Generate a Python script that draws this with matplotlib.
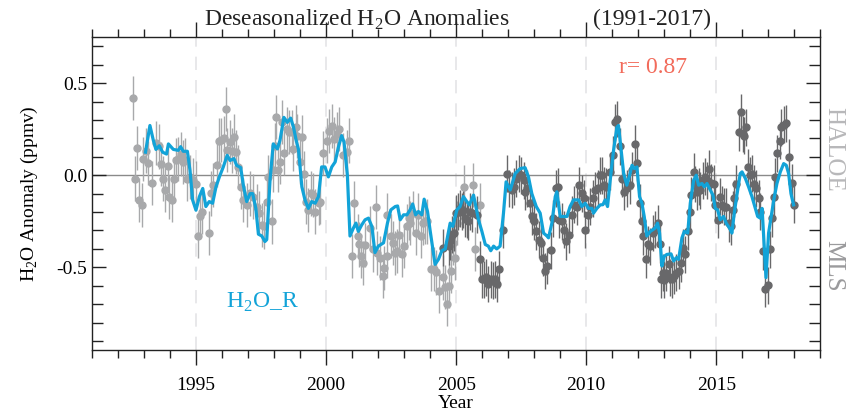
import matplotlib
matplotlib.use('Agg')
import matplotlib.pyplot as plt
import numpy as np
from matplotlib.ticker import MultipleLocator, FormatStrFormatter

plt.rcParams['font.family'] = ['Liberation Serif', 'DejaVu Serif']
plt.rcParams['mathtext.fontset'] = 'custom'
plt.rcParams['mathtext.rm'] = 'Liberation Serif'

# HALOE monthly anomalies (ppmv)
haloe_year = [1992.59, 1992.65, 1992.74, 1992.82, 1992.91, 1992.97, 1993.07, 1993.16, 1993.32, 1993.46,
              1993.59, 1993.64, 1993.74, 1993.81, 1993.91, 1993.97, 1994.07, 1994.16, 1994.23, 1994.32,
              1994.41, 1994.49, 1994.57, 1994.66, 1994.77, 1994.87, 1995.00, 1995.09, 1995.15, 1995.25,
              1995.49, 1995.56, 1995.66, 1995.79, 1995.90, 1995.98, 1996.07, 1996.15, 1996.20, 1996.31,
              1996.37, 1996.46, 1996.54, 1996.63, 1996.72, 1996.82, 1996.95, 1997.08, 1997.20, 1997.33,
              1997.43, 1997.52, 1997.61, 1997.72, 1997.78, 1997.91, 1997.95, 1998.04, 1998.08, 1998.17,
              1998.23, 1998.30, 1998.38, 1998.49, 1998.58, 1998.68, 1998.74, 1998.85, 1998.90, 1999.00,
              1999.08, 1999.17, 1999.23, 1999.32, 1999.42, 1999.51, 1999.58, 1999.71, 1999.77, 1999.90,
              2000.05, 2000.13, 2000.22, 2000.31, 2000.41, 2000.51, 2000.67, 2000.79, 2000.90, 2000.99,
              2001.08, 2001.21, 2001.28, 2001.33, 2001.41, 2001.50, 2001.67, 2001.80, 2001.91, 2001.97,
              2002.08, 2002.18, 2002.23, 2002.33, 2002.36, 2002.49, 2002.56, 2002.65, 2002.72, 2002.82,
              2002.91, 2003.00, 2003.10, 2003.17, 2003.23, 2003.33, 2003.46, 2003.55, 2003.64, 2003.72,
              2003.81, 2003.87, 2004.03, 2004.13, 2004.23, 2004.36, 2004.49, 2004.58, 2004.64, 2004.74,
              2004.81, 2004.87, 2004.96, 2005.05, 2005.31, 2005.64, 2005.73, 2005.92]
haloe_val = [0.42, -0.018, 0.149, -0.134, -0.161, 0.09, 0.134, 0.066, -0.041, 0.174,
             0.156, 0.059, -0.018, -0.08, 0.048, -0.12, -0.134, -0.023, 0.084, 0.09,
             0.116, 0.072, 0.081, -0.018, -0.009, -0.027, -0.045, -0.328, -0.224, -0.197,
             -0.314, -0.099, -0.054, 0.054, 0.188, 0.192, 0.203, 0.358, 0.138, 0.179,
             0.134, 0.21, 0.125, 0.045, -0.063, -0.134, -0.161, -0.099, -0.116, -0.17,
             -0.206, -0.269, -0.278, -0.143, -0.009, -0.251, 0.027, 0.161, 0.314, 0.027,
             0.072, 0.287, 0.12, 0.25, 0.233, 0.233, 0.143, 0.26, 0.215, 0.072,
             0.206, 0.009, -0.143, -0.188, -0.099, -0.108, -0.197, -0.152, -0.143, 0.12,
             0.188, 0.242, 0.269, 0.197, 0.224, 0.25, 0.108, 0.125, 0.188, -0.44,
             -0.152, -0.33, -0.376, -0.44, -0.475, -0.38, -0.287, -0.403, -0.174, -0.421,
             -0.448, -0.547, -0.502, -0.44, -0.215, -0.331, -0.367, -0.421, -0.412, -0.323,
             -0.43, -0.385, -0.278, -0.233, -0.26, -0.206, -0.314, -0.215, -0.331, -0.26,
             -0.251, -0.251, -0.51, -0.51, -0.528, -0.627, -0.555, -0.609, -0.699, -0.60,
             -0.52, -0.37, -0.448, -0.26, -0.063, -0.054, -0.40, -0.161]

# MLS monthly anomalies (ppmv)
mls_year = [2004.51, 2004.71, 2004.77, 2004.83, 2004.90, 2005.00, 2005.09, 2005.15, 2005.22, 2005.28,
            2005.35, 2005.41, 2005.47, 2005.54, 2005.60, 2005.79, 2005.90, 2005.99, 2006.08, 2006.15,
            2006.24, 2006.33, 2006.41, 2006.50, 2006.56, 2006.63, 2006.82, 2006.97, 2007.05, 2007.14,
            2007.21, 2007.31, 2007.40, 2007.49, 2007.59, 2007.65, 2007.72, 2007.82, 2007.91, 2008.00,
            2008.08, 2008.17, 2008.26, 2008.33, 2008.42, 2008.51, 2008.64, 2008.74, 2008.82, 2008.90,
            2008.97, 2009.06, 2009.15, 2009.23, 2009.32, 2009.45, 2009.54, 2009.64, 2009.74, 2009.83,
            2009.90, 2009.96, 2010.05, 2010.15, 2010.26, 2010.35, 2010.44, 2010.54, 2010.60, 2010.67,
            2010.77, 2010.90, 2011.03, 2011.12, 2011.20, 2011.31, 2011.37, 2011.46, 2011.56, 2011.67,
            2011.76, 2011.88, 2011.97, 2012.05, 2012.14, 2012.20, 2012.31, 2012.37, 2012.46, 2012.56,
            2012.65, 2012.74, 2012.82, 2012.87, 2012.95, 2013.00, 2013.08, 2013.17, 2013.23, 2013.29,
            2013.36, 2013.46, 2013.55, 2013.64, 2013.72, 2013.81, 2013.90, 2013.97, 2014.04, 2014.13,
            2014.19, 2014.26, 2014.32, 2014.38, 2014.49, 2014.58, 2014.64, 2014.72, 2014.79, 2014.90,
            2014.96, 2015.05, 2015.13, 2015.22, 2015.31, 2015.38, 2015.47, 2015.56, 2015.64, 2015.69,
            2015.77, 2015.86, 2015.95, 2016.02, 2016.08, 2016.14, 2016.22, 2016.31, 2016.37, 2016.46,
            2016.54, 2016.63, 2016.69, 2016.78, 2016.88, 2016.97, 2017.08, 2017.14, 2017.21, 2017.27,
            2017.33, 2017.44, 2017.50, 2017.59, 2017.69, 2017.78, 2017.91, 2017.97]
mls_val = [-0.394, -0.385, -0.358, -0.323, -0.314, -0.206, -0.197, -0.179, -0.197, -0.188,
           -0.233, -0.242, -0.251, -0.197, -0.206, -0.215, -0.457, -0.565, -0.565, -0.555,
           -0.591, -0.565, -0.573, -0.565, -0.591, -0.51, -0.296, 0.009, -0.072, -0.08,
           -0.063, -0.018, 0.009, 0.0, -0.027, -0.09, -0.072, -0.152, -0.224, -0.251,
           -0.305, -0.349, -0.367, -0.448, -0.52, -0.493, -0.407, -0.233, -0.072, -0.063,
           -0.242, -0.251, -0.296, -0.358, -0.323, -0.215, -0.161, -0.17, -0.054, -0.099,
           -0.125, -0.296, -0.215, -0.17, -0.125, -0.081, -0.072, 0.0, 0.0, -0.054,
           -0.063, 0.018, 0.111, 0.287, 0.305, 0.158, -0.018, -0.09, -0.072, -0.054,
           0.027, 0.17, 0.066, -0.149, -0.247, -0.332, -0.457, -0.376, -0.385, -0.314,
           -0.296, -0.26, -0.376, -0.565, -0.529, -0.568, -0.529, -0.484, -0.556, -0.565,
           -0.547, -0.529, -0.52, -0.479, -0.394, -0.43, -0.305, -0.197, -0.108, 0.018,
           -0.048, -0.09, -0.063, -0.081, -0.027, -0.009, -0.027, 0.036, -0.041, -0.045,
           -0.161, -0.242, -0.116, -0.161, -0.17, -0.17, -0.26, -0.278, -0.188, -0.125,
           -0.045, 0.233, 0.341, 0.224, 0.215, 0.26, 0.045, 0.0, 0.009, -0.045,
           -0.072, -0.125, -0.197, -0.412, -0.618, -0.597, -0.403, -0.233, -0.116, -0.009,
           0.12, 0.188, 0.26, 0.274, 0.281, 0.099, -0.041, -0.161]

# H2O_R reconstruction
h2or_year = [1993.06, 1993.23, 1993.36, 1993.46, 1993.59, 1993.72, 1993.87, 1993.94, 1994.13, 1994.32,
             1994.41, 1994.51, 1994.67, 1994.77, 1994.87, 1995.00, 1995.13, 1995.26, 1995.38, 1995.51,
             1995.64, 1995.77, 1995.90, 1996.05, 1996.20, 1996.31, 1996.46, 1996.56, 1996.72, 1996.82,
             1996.95, 1997.08, 1997.18, 1997.30, 1997.40, 1997.53, 1997.65, 1997.72, 1997.85, 1997.97,
             1998.13, 1998.23, 1998.38, 1998.51, 1998.64, 1998.75, 1998.85, 1998.94, 1999.07, 1999.19,
             1999.32, 1999.45, 1999.58, 1999.71, 1999.83, 1999.96, 2000.09, 2000.22, 2000.35, 2000.47,
             2000.60, 2000.69, 2000.82, 2000.92, 2001.05, 2001.15, 2001.24, 2001.37, 2001.50, 2001.63,
             2001.76, 2001.88, 2002.01, 2002.21, 2002.36, 2002.49, 2002.66, 2002.75, 2002.85, 2002.98,
             2003.11, 2003.23, 2003.33, 2003.44, 2003.55, 2003.68, 2003.77, 2003.90, 2004.00, 2004.19,
             2004.32, 2004.45, 2004.58, 2004.77, 2004.87, 2005.03, 2005.15, 2005.28, 2005.41, 2005.51,
             2005.67, 2005.86, 2005.99, 2006.12, 2006.24, 2006.33, 2006.44, 2006.56, 2006.69, 2006.82,
             2006.92, 2007.08, 2007.27, 2007.46, 2007.65, 2007.78, 2007.91, 2008.08, 2008.23, 2008.36,
             2008.49, 2008.55, 2008.68, 2008.81, 2008.87, 2009.00, 2009.13, 2009.26, 2009.38, 2009.51,
             2009.71, 2009.83, 2009.96, 2010.09, 2010.22, 2010.28, 2010.41, 2010.54, 2010.64, 2010.73,
             2010.82, 2010.92, 2011.05, 2011.18, 2011.24, 2011.33, 2011.44, 2011.56, 2011.67, 2011.76,
             2011.85, 2011.95, 2012.05, 2012.14, 2012.23, 2012.33, 2012.46, 2012.56, 2012.65, 2012.74,
             2012.82, 2012.91, 2013.00, 2013.10, 2013.26, 2013.36, 2013.46, 2013.55, 2013.68, 2013.77,
             2013.90, 2014.00, 2014.13, 2014.23, 2014.32, 2014.45, 2014.54, 2014.64, 2014.74, 2014.87,
             2014.96, 2015.05, 2015.15, 2015.28, 2015.38, 2015.51, 2015.60, 2015.69, 2015.80, 2015.92,
             2015.99, 2016.12, 2016.24, 2016.37, 2016.50, 2016.59, 2016.69, 2016.76, 2016.82, 2016.91,
             2017.01, 2017.10, 2017.21, 2017.33, 2017.46, 2017.59, 2017.69, 2017.78, 2017.87, 2017.97]
h2or_val = [0.125, 0.27, 0.19, 0.14, 0.16, 0.125, 0.115, 0.17, 0.14, 0.135,
            0.155, 0.13, 0.13, 0.027, -0.134, -0.19, -0.117, -0.072, -0.17, -0.143,
            -0.152, -0.063, -0.009, 0.045, 0.108, 0.08, 0.09, 0.054, 0.041, -0.054,
            -0.143, -0.10, -0.10, -0.18, -0.32, -0.33, -0.36, -0.35, -0.02, 0.17,
            0.143, 0.19, 0.314, 0.287, 0.31, 0.26, 0.19, 0.14, -0.063, -0.134,
            -0.18, -0.143, -0.152, -0.116, 0.045, 0.045, -0.009, 0.045, 0.072, 0.15,
            0.215, 0.18, 0.0, -0.33, -0.287, -0.26, -0.305, -0.27, -0.242, -0.233,
            -0.278, -0.42, -0.385, -0.367, -0.26, -0.188, -0.17, -0.167, -0.242, -0.215,
            -0.215, -0.188, -0.156, -0.215, -0.197, -0.215, -0.13, -0.197, -0.30, -0.484,
            -0.457, -0.41, -0.40, -0.26, -0.278, -0.188, -0.17, -0.116, -0.143, -0.161,
            -0.108, -0.242, -0.305, -0.376, -0.385, -0.41, -0.385, -0.40, -0.385, -0.206,
            -0.036, -0.08, 0.009, 0.036, 0.041, -0.009, -0.10, -0.17, -0.206, -0.314,
            -0.33, -0.34, -0.26, -0.116, -0.09, -0.224, -0.224, -0.224, -0.17, -0.134,
            -0.134, -0.17, -0.152, -0.18, -0.18, -0.206, -0.18, -0.161, -0.16, -0.134,
            -0.17, -0.03, 0.134, 0.26, 0.27, 0.152, 0.009, -0.054, 0.0, 0.054,
            0.036, 0.045, -0.116, -0.152, -0.224, -0.33, -0.305, -0.296, -0.287, -0.26,
            -0.314, -0.493, -0.44, -0.43, -0.427, -0.466, -0.448, -0.457, -0.34, -0.305,
            -0.314, -0.152, -0.027, 0.0, -0.054, -0.045, -0.063, -0.045, -0.072, -0.108,
            -0.18, -0.188, -0.242, -0.224, -0.26, -0.287, -0.314, -0.206, -0.1, 0.009,
            0.018, -0.018, -0.063, -0.116, -0.18, -0.224, -0.233, -0.18, -0.33, -0.556,
            -0.314, -0.233, -0.134, -0.045, 0.018, 0.063, 0.054, 0.009, -0.1, -0.161]

haloe_err = 0.12
mls_err = 0.1

c_haloe = '#a8a9ab'
c_mls = '#68686a'
c_blue = '#12a3d8'

fig = plt.figure(figsize=(8.51, 4.12), dpi=100)
ax = fig.add_axes([0.108, 0.150, 0.856, 0.760])

for yr in [1995, 2000, 2005, 2010, 2015]:
    ax.axvline(yr, color='#e4e4e6', lw=1.2, ls=(0, (8, 6)), zorder=0)
ax.axhline(0, color='#8a8a8a', lw=1.0, zorder=1)

ax.errorbar(haloe_year, haloe_val, yerr=haloe_err, fmt='o', color=c_haloe, ecolor=c_haloe,
            ms=5, elinewidth=1.0, capsize=0, zorder=2)
ax.errorbar(mls_year, mls_val, yerr=mls_err, fmt='o', color=c_mls, ecolor=c_mls,
            ms=5, elinewidth=1.0, capsize=0, zorder=3)
ax.plot(h2or_year, h2or_val, color=c_blue, lw=2.3, zorder=4)

ax.set_xlim(1991, 2019)
ax.set_ylim(-0.95, 0.75)
ax.xaxis.set_major_locator(MultipleLocator(5))
ax.xaxis.set_minor_locator(MultipleLocator(1))
ax.yaxis.set_major_locator(MultipleLocator(0.5))
ax.yaxis.set_minor_locator(MultipleLocator(0.1))
ax.yaxis.set_major_formatter(FormatStrFormatter('%.1f'))
ax.tick_params(axis='x', which='both', direction='out', top=True, labelsize=14, color='#222222', pad=8)
ax.tick_params(axis='x', which='major', length=11, width=1)
ax.tick_params(axis='x', which='minor', length=6, width=1)
ax.tick_params(axis='y', which='both', direction='in', right=True, labelsize=14, color='#222222')
ax.tick_params(axis='y', which='major', length=10, width=1)
ax.tick_params(axis='y', which='minor', length=8, width=1)
for s in ax.spines.values():
    s.set_color('#222222')
    s.set_linewidth(1.0)

ax.set_xlabel('Year', fontsize=14, labelpad=1)
ax.set_ylabel('H$_\\mathrm{2}$O Anomaly (ppmv)', fontsize=14, labelpad=12)

ax.text(0.364, 1.055, 'Deseasonalized H$_\\mathrm{2}$O Anomalies', transform=ax.transAxes,
        ha='center', va='center', fontsize=17, color='#222222')
ax.text(0.769, 1.055, '(1991-2017)', transform=ax.transAxes,
        ha='center', va='center', fontsize=17, color='#222222')

ax.text(1997.55, -0.69, 'H$_\\mathrm{2}$O_R', color=c_blue, fontsize=17, ha='center', va='center')
ax.text(2012.55, 0.585, 'r= 0.87', color='#f26b5b', fontsize=17, ha='center', va='center')

ax.text(1.018, 0.64, 'HALOE', transform=ax.transAxes, rotation=-90, color='#b8b8ba',
        fontsize=18, ha='center', va='center')
ax.text(1.018, 0.27, 'MLS', transform=ax.transAxes, rotation=-90, color='#9a9a9c',
        fontsize=18, ha='center', va='center')

fig.savefig('out.png', dpi=100)
